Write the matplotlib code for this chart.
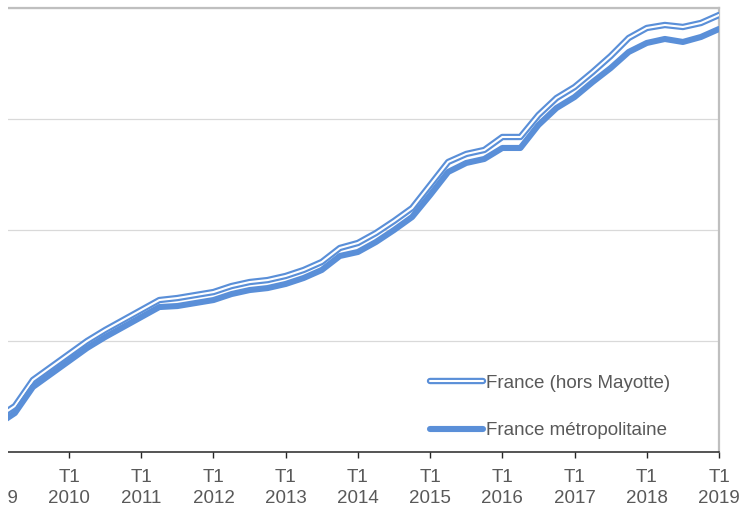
import matplotlib
matplotlib.use("Agg")
import matplotlib.pyplot as plt
import matplotlib.patheffects as pe
from matplotlib.patches import Rectangle

# Trimestres de T1 2009 a T1 2019
years = list(range(2009, 2020))
quarters = [f"T{q} {y}" for y in range(2009, 2020) for q in (1, 2, 3, 4)][:41]

# France metropolitaine (echelle)
metro = [24.3, 35.1, 58.6, 70.3, 82.0, 93.7, 103.6, 112.6, 121.6, 130.6,
         131.5, 134.2, 136.9, 142.3, 145.9, 147.7, 151.4, 156.8, 164.0, 176.6,
         180.2, 189.2, 200.0, 211.7, 231.5, 252.3, 260.4, 264.0, 273.9, 273.9,
         294.6, 309.9, 319.8, 333.3, 345.9, 360.4, 368.5, 372.1, 369.4, 373.9,
         381.1]

# France (hors Mayotte)
hors_mayotte = [30.6, 41.4, 64.9, 76.6, 88.3, 100.0, 109.9, 118.9, 127.9, 136.9,
                138.7, 141.4, 144.1, 149.5, 153.1, 154.9, 158.6, 164.0, 171.2, 183.8,
                188.3, 197.3, 208.1, 219.8, 240.5, 261.3, 268.5, 272.1, 283.8, 283.8,
                303.6, 318.9, 328.8, 342.3, 356.7, 373.0, 382.0, 384.7, 382.9, 386.5,
                393.7]

tick_labels = [f"T1\n{y}" for y in years]

blue = "#5A8FD8"
text_col = "#595959"
plt.rcParams["font.family"] = ["Liberation Sans", "DejaVu Sans"]

W, H = 743, 512
fig = plt.figure(figsize=(W / 100, H / 100), dpi=100)

# axes placed so that the left part is cut off like in the source image
left_px, right_px, top_px, bottom_px = -10.4, 719, 8, 452
ax = fig.add_axes([left_px / W, (H - bottom_px) / H,
                   (right_px - left_px) / W, (bottom_px - top_px) / H])

x = list(range(len(metro)))
ax.plot(x, hors_mayotte, color="white", lw=1.5, solid_capstyle="round",
        path_effects=[pe.Stroke(linewidth=4.6, foreground=blue), pe.Normal()],
        label="France (hors Mayotte)", zorder=3)
ax.plot(x, metro, color=blue, lw=4.4, solid_capstyle="round",
        label="France métropolitaine", zorder=3)

ax.set_xlim(-0.4, 40)
ax.set_ylim(0, 400)
ax.set_yticks([100, 200, 300, 400])
ax.yaxis.grid(True, color="#D9D9D9", lw=0.9)
ax.set_axisbelow(True)
ax.tick_params(axis="y", left=False, labelleft=False)

ax.set_xticks(list(range(0, 41, 4)))
ax.set_xticklabels(tick_labels, fontsize=13.5, color=text_col, linespacing=1.32)
ax.tick_params(axis="x", length=4, width=1, color="#262626", pad=8)

ax.spines["left"].set_visible(False)
ax.spines["bottom"].set_color("#262626")
ax.spines["bottom"].set_linewidth(1.1)
for s in ("top", "right"):
    ax.spines[s].set_color("#BFBFBF")
    ax.spines[s].set_linewidth(1.6)

leg = ax.legend(loc="center left", bbox_to_anchor=(430 / W, (H - 407) / H),
                bbox_transform=fig.transFigure, frameon=False, fontsize=13.5,
                handlelength=2.8, handletextpad=0.2, labelspacing=1.62,
                borderpad=0, borderaxespad=0)
for t in leg.get_texts():
    t.set_color(text_col)

# white band on the left, the picture is cropped there
fig.patches.append(Rectangle((0, 0), 8 / W, 1, transform=fig.transFigure,
                             facecolor="white", edgecolor="none", zorder=10))

fig.savefig("out.png", dpi=100)
